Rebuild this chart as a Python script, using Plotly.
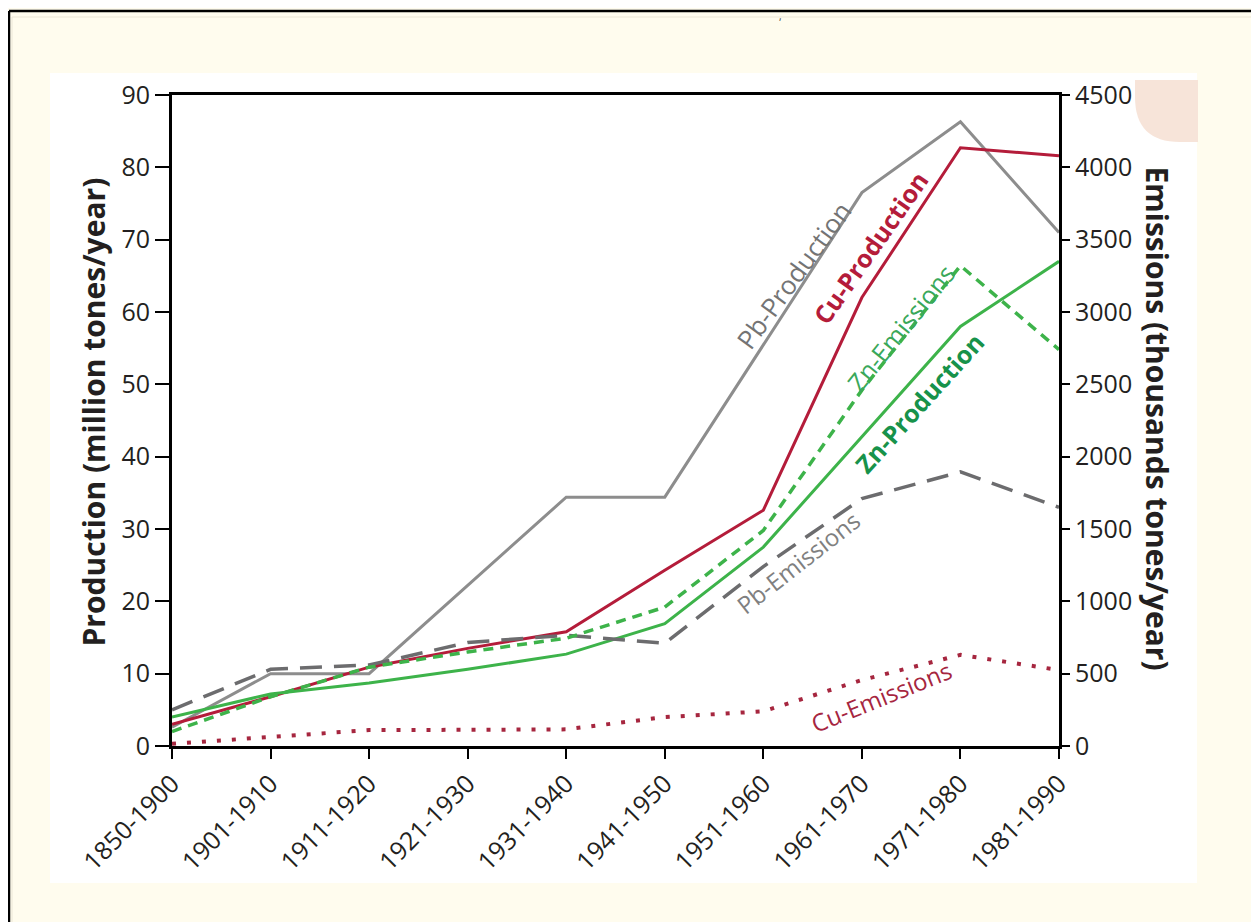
import plotly.graph_objects as go

# ---------------- data ----------------
categories = ["1850-1900", "1901-1910", "1911-1920", "1921-1930", "1931-1940",
              "1941-1950", "1951-1960", "1961-1970", "1971-1980", "1981-1990"]

# production, million tonnes / year (left axis)
pb_production = [2.6, 10.0, 10.0, 22.2, 34.4, 34.4, 55.5, 76.5, 86.3, 71.0]
cu_production = [3.0, 6.8, 10.9, 13.5, 15.8, 24.3, 32.6, 62.0, 82.7, 81.6]
zn_production = [4.0, 7.2, 8.7, 10.6, 12.7, 16.9, 27.5, 42.8, 58.0, 67.0]

# emissions, thousand tonnes / year (right axis)
pb_emissions = [250, 530, 560, 715, 765, 710, 1240, 1710, 1895, 1650]
zn_emissions = [100, 340, 545, 650, 745, 960, 1490, 2460, 3320, 2740]
cu_emissions = [15, 62, 110, 112, 115, 200, 240, 456, 630, 525]

left_ticks = list(range(0, 91, 10))
right_ticks = list(range(0, 4501, 500))

# ---------------- layout helpers ----------------
# page body has an 8px margin, so the figure is drawn 8px smaller / shifted
OFF = 8
W, H = 1259 - OFF, 922 - OFF
L, R, T, B = 172, 1059, 95, 746          # plot area in reference (page) pixels
def px(x):
    return (x - L) / (R - L)
def py(y):
    return (B - y) / (B - T)

FONT = "Open Sans"
TXT = "#231f20"
GRAY = "#8d8d8d"
GRAY_D = "#6c6c6e"
RED = "#b41c3a"
RED_D = "#a6263f"
GREEN = "#3db34a"
GREEN_D = "#17924a"

fig = go.Figure()

fig.add_trace(go.Scatter(x=categories, y=pb_production, mode="lines", name="Pb-Production",
                         line=dict(color=GRAY, width=3), yaxis="y"))
fig.add_trace(go.Scatter(x=categories, y=cu_production, mode="lines", name="Cu-Production",
                         line=dict(color=RED, width=3), yaxis="y"))
fig.add_trace(go.Scatter(x=categories, y=zn_production, mode="lines", name="Zn-Production",
                         line=dict(color=GREEN, width=3), yaxis="y"))
fig.add_trace(go.Scatter(x=categories, y=pb_emissions, mode="lines", name="Pb-Emissions",
                         line=dict(color=GRAY_D, width=3.5, dash="22px,12px"), yaxis="y2"))
fig.add_trace(go.Scatter(x=categories, y=zn_emissions, mode="lines", name="Zn-Emissions",
                         line=dict(color=GREEN, width=3.5, dash="10px,7px"), yaxis="y2"))
fig.add_trace(go.Scatter(x=categories, y=cu_emissions, mode="lines", name="Cu-Emissions",
                         line=dict(color=RED_D, width=4, dash="4px,11px"), yaxis="y2"))

axis_line = dict(showline=True, linecolor="black", linewidth=3, showgrid=False, zeroline=False)
ytickfont = dict(family=FONT, size=25, color=TXT)
xtickfont = dict(family=FONT, size=25, color=TXT)

fig.update_layout(
    width=W, height=H,
    margin=dict(l=L - OFF, r=(W + OFF) - R, t=T - OFF, b=(H + OFF) - B, autoexpand=False),
    paper_bgcolor="#fffcee",
    plot_bgcolor="white",
    showlegend=False,
    font=dict(family=FONT, color=TXT),
    xaxis=dict(type="category", categoryorder="array", categoryarray=categories,
               range=[0, len(categories) - 1], ticks="outside", ticklen=10, tickwidth=2,
               tickcolor="black", tickangle=-45, tickfont=xtickfont, mirror=True, **axis_line),
    xaxis2=dict(overlaying="x", anchor="y", side="bottom", range=[0, len(categories) - 1],
                tickmode="linear", tick0=0, dtick=1, ticks="inside", ticklen=11, tickwidth=2,
                tickcolor="black", showticklabels=False, showline=False, showgrid=False,
                zeroline=False),
    yaxis=dict(range=[0, 90], tickvals=left_ticks, ticks="outside", ticklen=14, tickwidth=2,
               tickcolor="black", tickfont=ytickfont, **axis_line),
    yaxis2=dict(range=[0, 4500], tickvals=right_ticks, overlaying="y", side="right", anchor="x",
                ticks="outside", ticklen=8, tickwidth=2, tickcolor="black", tickfont=ytickfont,
                **axis_line),
    yaxis3=dict(range=[0, 90], tickvals=left_ticks, overlaying="y", side="left", anchor="x",
                ticks="inside", ticklen=6, tickwidth=2, tickcolor="black",
                showticklabels=False, showline=False, showgrid=False, zeroline=False),
    yaxis4=dict(range=[0, 4500], tickvals=right_ticks, overlaying="y", side="right", anchor="x",
                ticks="inside", ticklen=14, tickwidth=2, tickcolor="black",
                showticklabels=False, showline=False, showgrid=False, zeroline=False),
)

# ---------------- decoration shapes ----------------
shapes = [
    # white panel
    dict(type="rect", xref="paper", yref="paper", layer="below",
         x0=px(50), x1=px(1197), y0=py(883), y1=py(73),
         fillcolor="white", line=dict(width=0)),
    # faint inner border of cream card
    dict(type="rect", xref="paper", yref="paper", layer="below",
         x0=px(12), x1=px(1270), y0=py(940), y1=py(17),
         fillcolor="rgba(0,0,0,0)", line=dict(color="#ebe6d6", width=1)),
    # black frame (top and left)
    dict(type="line", xref="paper", yref="paper", x0=px(9), x1=px(1270), y0=py(11), y1=py(11),
         line=dict(color="black", width=2.5)),
    dict(type="line", xref="paper", yref="paper", x0=px(9), x1=px(9), y0=py(11), y1=py(940),
         line=dict(color="black", width=2.5)),
]
# peach corner tab with rounded lower-left corner
x0, x1, y0, y1, r = px(1135), px(1198), py(80), py(142), 45
rx, ry = r / (R - L), r / (B - T)
shapes.append(dict(type="path", xref="paper", yref="paper", layer="above",
                   path=f"M {x0},{y0} L {x1},{y0} L {x1},{y1} L {x0+rx},{y1} "
                        f"Q {x0},{y1} {x0},{y1+ry} Z",
                   fillcolor="#f7e4d9", line=dict(width=0)))
fig.update_layout(shapes=shapes)

# ---------------- annotations ----------------
ann = []
def label(text, xi, yv, angle, color, bold=False, size=26):
    ann.append(dict(x=xi, y=yv, xref="x", yref="y", text=f"<b>{text}</b>" if bold else text,
                    showarrow=False, textangle=angle,
                    font=dict(family=FONT, size=size, color=color)))

label("Pb-Production", 6.31, 65.1, -54, "#747474", size=26)
label("Cu-Production", 7.08, 68.9, -55, RED, bold=True, size=25)
label("Zn-Emissions", 7.39, 57.8, -51, "#3aa85a", size=25)
label("Zn-Production", 7.58, 47.4, -48, GREEN_D, bold=True, size=25)
label("Pb-Emissions", 6.35, 25.4, -38, "#808080", size=24)
label("Cu-Emissions", 7.20, 6.8, -22, RED_D, size=24)

ann.append(dict(x=px(70), y=py(412), xref="paper", yref="paper",
                text="<b>Production (million tones/year)</b>", showarrow=False, textangle=-90,
                font=dict(family=FONT, size=30, color=TXT)))
ann.append(dict(x=px(1180), y=py(418), xref="paper", yref="paper",
                text="<b>Emissions (thousands tones/year)</b>", showarrow=False, textangle=90,
                font=dict(family=FONT, size=30, color=TXT)))
ann.append(dict(x=px(783), y=py(8), xref="paper", yref="paper", text=",", showarrow=False,
                yanchor="top", borderpad=0,
                font=dict(family=FONT, size=10, color="#444")))
fig.update_layout(annotations=ann)

fig.write_html("out.html")
